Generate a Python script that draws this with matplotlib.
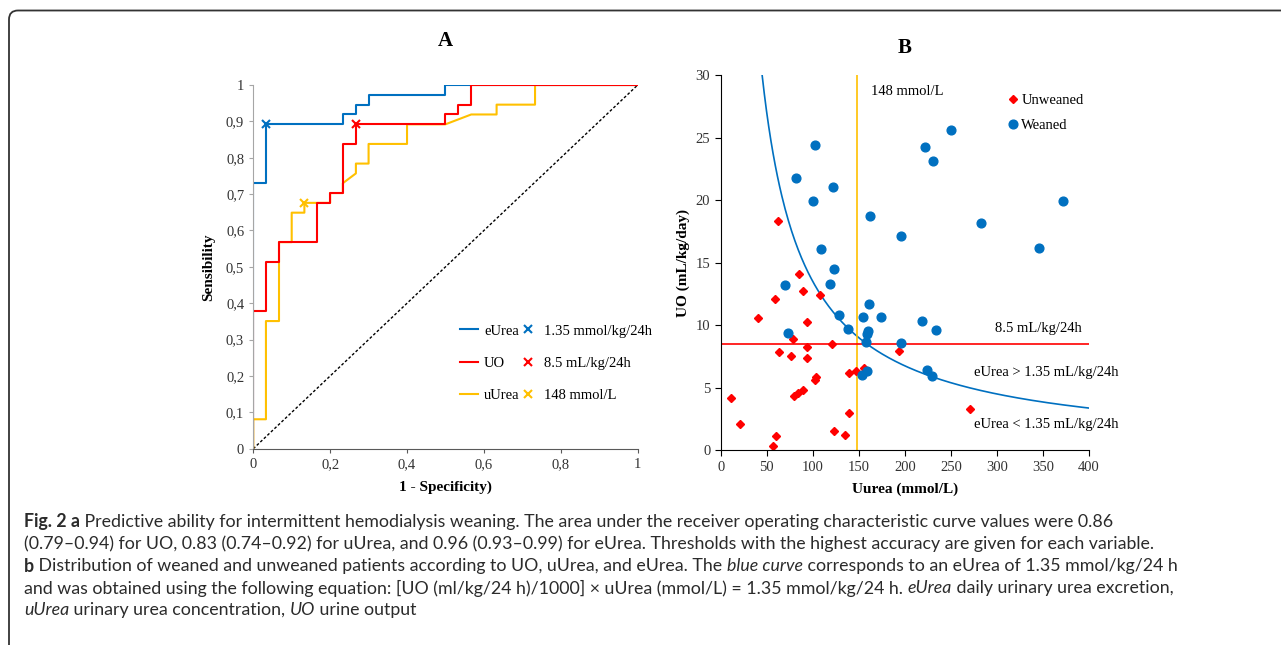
import matplotlib
matplotlib.use("Agg")
import matplotlib.pyplot as plt
from matplotlib.lines import Line2D
from matplotlib.patches import FancyBboxPatch
from matplotlib.transforms import IdentityTransform
import numpy as np

# ---- panel A: ROC curves (1 - specificity, sensitivity) ----
eurea_fpr = [0, 0, 0.033, 0.033, 0.233, 0.233, 0.267, 0.267, 0.3, 0.3, 0.5, 0.5, 1]
eurea_tpr = [0, 0.73, 0.73, 0.892, 0.892, 0.919, 0.919, 0.946, 0.946, 0.973, 0.973, 1, 1]

uo_fpr = [0, 0, 0.033, 0.033, 0.067, 0.067, 0.167, 0.167, 0.2, 0.2, 0.233, 0.233,
          0.267, 0.267, 0.5, 0.5, 0.533, 0.533, 0.567, 0.567, 1]
uo_tpr = [0, 0.378, 0.378, 0.514, 0.514, 0.568, 0.568, 0.676, 0.676, 0.703, 0.703, 0.838,
          0.838, 0.892, 0.892, 0.919, 0.919, 0.946, 0.946, 1, 1]

uurea_fpr = [0, 0, 0.033, 0.033, 0.067, 0.067, 0.1, 0.1, 0.133, 0.133, 0.2, 0.2, 0.233, 0.233,
             0.267, 0.267, 0.3, 0.3, 0.4, 0.4, 0.5, 0.567, 0.633, 0.633, 0.733, 0.733, 1]
uurea_tpr = [0, 0.081, 0.081, 0.351, 0.351, 0.568, 0.568, 0.649, 0.649, 0.676, 0.676, 0.703, 0.703,
             0.73, 0.757, 0.784, 0.784, 0.838, 0.838, 0.892, 0.892, 0.919, 0.919, 0.946, 0.946, 1, 1]

# best thresholds
thr_labels = ["1.35 mmol/kg/24h", "8.5 mL/kg/24h", "148 mmol/L"]
thr_fpr = [0.033, 0.267, 0.133]
thr_tpr = [0.892, 0.892, 0.676]

# ---- panel B: scatter (uUrea, UO) ----
unw_urea = [11.6, 21.4, 40.5, 58.6, 56.5, 60.4, 63.3, 85, 78.5, 76.4, 89.4, 94.1, 93.4, 93.4,
            79.6, 84.3, 89.4, 103.1, 102.1, 107.5, 120.5, 123.1, 134.6, 139.3, 139.3, 147.3,
            156, 193.3, 270.3, 62.2]
unw_uo = [4.16, 2.08, 10.59, 12.08, 0.37, 1.17, 7.84, 14.1, 8.88, 7.55, 12.72, 10.27, 8.24, 7.39,
          4.32, 4.59, 4.8, 5.84, 5.63, 12.45, 8.51, 1.57, 1.2, 6.21, 3.01, 6.32,
          6.61, 7.95, 3.3, 18.3]

wea_urea = [108.6, 123, 70.2, 119.1, 128.5, 161, 154.9, 174.1, 138.3, 73.1, 160.3, 158.5, 158.2,
            196.2, 153.1, 159.2, 218.2, 233.4, 224, 229.1, 102.4, 81.4, 122.3, 99.9, 162.5,
            196.1, 222.2, 230.2, 250, 372, 282.3, 346]
wea_uo = [16.08, 14.53, 13.25, 13.28, 10.85, 11.71, 10.67, 10.69, 9.73, 9.36, 9.57, 9.28, 8.69,
          8.61, 6.05, 6.32, 10.37, 9.62, 6.45, 5.94, 24.42, 21.76, 21.06, 19.92, 18.74,
          17.17, 24.24, 23.12, 25.62, 19.92, 18.18, 16.21]

uurea_cut = 148
uo_cut = 8.5
eurea_cut = 1.35  # mmol/kg/24h  -> UO = eurea*1000/uUrea

BLUE = "#0070C0"
RED = "#FF0000"
YEL = "#FFC000"

plt.rcParams["font.family"] = "Liberation Serif"
plt.rcParams["font.size"] = 10

fig = plt.figure(figsize=(12.81, 6.45), dpi=100)

# rounded frame
frame = FancyBboxPatch((9, -30), 1320, 645 - 10.5 + 30, boxstyle="round,pad=0,rounding_size=9",
                       transform=IdentityTransform(), fill=False, edgecolor="#333333", lw=1.3)
fig.patches.append(frame)

# ------------- A -------------
axA = fig.add_axes([0.1977, 0.3043, 0.3001, 0.5639])
axA.plot([0, 1], [0, 1], color="black", lw=1, dashes=(2, 1.5))
axA.plot(eurea_fpr, eurea_tpr, color=BLUE, lw=1.5)
axA.plot(uurea_fpr, uurea_tpr, color=YEL, lw=1.5)
axA.plot(uo_fpr, uo_tpr, color=RED, lw=1.5)
for c, fx, ty in zip([BLUE, RED, YEL], thr_fpr, thr_tpr):
    axA.plot(fx, ty, "x", color=c, ms=6, mew=1.5)

axA.set_xlim(0, 1)
axA.set_ylim(0, 1)
axA.set_xticks(np.arange(0, 1.01, 0.2))
axA.set_yticks(np.arange(0, 1.01, 0.1))
fmt = lambda v: "0" if v == 0 else ("1" if v == 1 else ("%g" % round(v, 1)).replace(".", ","))
axA.set_xticklabels([fmt(v) for v in np.arange(0, 1.01, 0.2)])
axA.set_yticklabels([fmt(v) for v in np.arange(0, 1.01, 0.1)])
for s in ["top", "right"]:
    axA.spines[s].set_visible(False)
axA.spines["left"].set_color("#a6a6a6")
axA.spines["bottom"].set_color("#595959")
axA.tick_params(axis="y", direction="out", length=3, color="#a6a6a6", labelsize=10.5, colors="#333333")
axA.tick_params(axis="x", direction="out", length=3, color="#595959", labelsize=10.5, colors="#333333")
axA.set_xlabel("1 - Specificity)", fontweight="bold", fontsize=11, labelpad=7)
axA.set_ylabel("Sensibility", fontweight="bold", fontsize=11, labelpad=8)
axA.set_title("A", fontweight="bold", fontsize=15, pad=28)

handles = [Line2D([], [], color=BLUE, lw=1.5), Line2D([], [], color=RED, lw=1.5),
           Line2D([], [], color=YEL, lw=1.5)]
handles += [Line2D([], [], ls="none", marker="x", color=c, ms=6, mew=1.5) for c in [BLUE, RED, YEL]]
labels = ["eUrea", "UO", "uUrea"] + thr_labels
axA.legend(handles, labels, ncol=2, loc="upper left", bbox_to_anchor=(0.538, 0.342), frameon=False,
           borderpad=0, borderaxespad=0, handlelength=1.2, handletextpad=0.45, columnspacing=0.0,
           labelspacing=1.3, fontsize=10.5)

# ------------- B -------------
axB = fig.add_axes([0.5626, 0.3019, 0.2875, 0.5818])
xs = np.linspace(eurea_cut * 1000 / 30, 400, 300)
axB.plot(xs, eurea_cut * 1000 / xs, color=BLUE, lw=1.2)
axB.axvline(uurea_cut, color=YEL, lw=1.2)
axB.plot([0, 400], [uo_cut, uo_cut], color=RED, lw=1.2)
axB.plot(unw_urea, unw_uo, "D", color=RED, ms=3.8, ls="none", label="Unweaned")
axB.plot(wea_urea, wea_uo, "o", color=BLUE, ms=6.3, ls="none", label="Weaned")

axB.set_xlim(0, 400)
axB.set_ylim(0, 30)
axB.set_xticks(np.arange(0, 401, 50))
axB.set_yticks(np.arange(0, 31, 5))
for s in ["top", "right"]:
    axB.spines[s].set_visible(False)
axB.tick_params(direction="out", length=4, labelsize=10.5, colors="#333333")
axB.tick_params(color="black")
axB.set_xlabel("Uurea (mmol/L)", fontweight="bold", fontsize=11, labelpad=6)
axB.set_ylabel("UO (mL/kg/day)", fontweight="bold", fontsize=11, labelpad=4)
axB.set_title("B", fontweight="bold", fontsize=15, pad=16)

axB.text(163, 28.7, "148 mmol/L", fontsize=10.5, va="center")
axB.text(298, 9.7, "8.5 mL/kg/24h", fontsize=10.5, va="center")
axB.text(275, 6.2, "eUrea > 1.35 mL/kg/24h", fontsize=10.5, va="center", clip_on=False)
axB.text(275, 2.1, "eUrea < 1.35 mL/kg/24h", fontsize=10.5, va="center", clip_on=False)
axB.legend(loc="upper left", bbox_to_anchor=(0.765, 0.97), frameon=False, handlelength=0.5,
           handletextpad=0.3, labelspacing=0.85, fontsize=10.5, borderpad=0)

# ------------- caption -------------
cap_lines = [
    [("Fig. 2 a", "bold", "normal"),
     (" Predictive ability for intermittent hemodialysis weaning. The area under the receiver "
      "operating characteristic curve values were 0.86", "normal", "normal")],
    [("(0.79\u20130.94) for UO, 0.83 (0.74\u20130.92) for uUrea, and 0.96 (0.93\u20130.99) for eUrea. "
      "Thresholds with the highest accuracy are given for each variable.", "normal", "normal")],
    [("b", "bold", "normal"),
     (" Distribution of weaned and unweaned patients according to UO, uUrea, and eUrea. The ",
      "normal", "normal"),
     ("blue curve", "normal", "italic"),
     (" corresponds to an eUrea of 1.35 mmol/kg/24 h", "normal", "normal")],
    [("and was obtained using the following equation: [UO (ml/kg/24 h)/1000] \u00d7 uUrea (mmol/L) = "
      "1.35 mmol/kg/24 h. ", "normal", "normal"),
     ("eUrea", "normal", "italic"),
     (" daily urinary urea excretion,", "normal", "normal")],
    [("uUrea", "normal", "italic"),
     (" urinary urea concentration, ", "normal", "normal"),
     ("UO", "normal", "italic"),
     (" urine output", "normal", "normal")],
]

renderer = fig.canvas.get_renderer()
y0 = 645 - 522
for i, pieces in enumerate(cap_lines):
    x = 24
    y = y0 - i * 22
    for txt, w, st in pieces:
        t = fig.text(x, y, txt, transform=IdentityTransform(), fontsize=12.8, fontweight=w,
                     fontstyle=st, family="Lato", color="#2b2b2b", va="center")
        x += t.get_window_extent(renderer).width

fig.savefig("out.png", dpi=100)
